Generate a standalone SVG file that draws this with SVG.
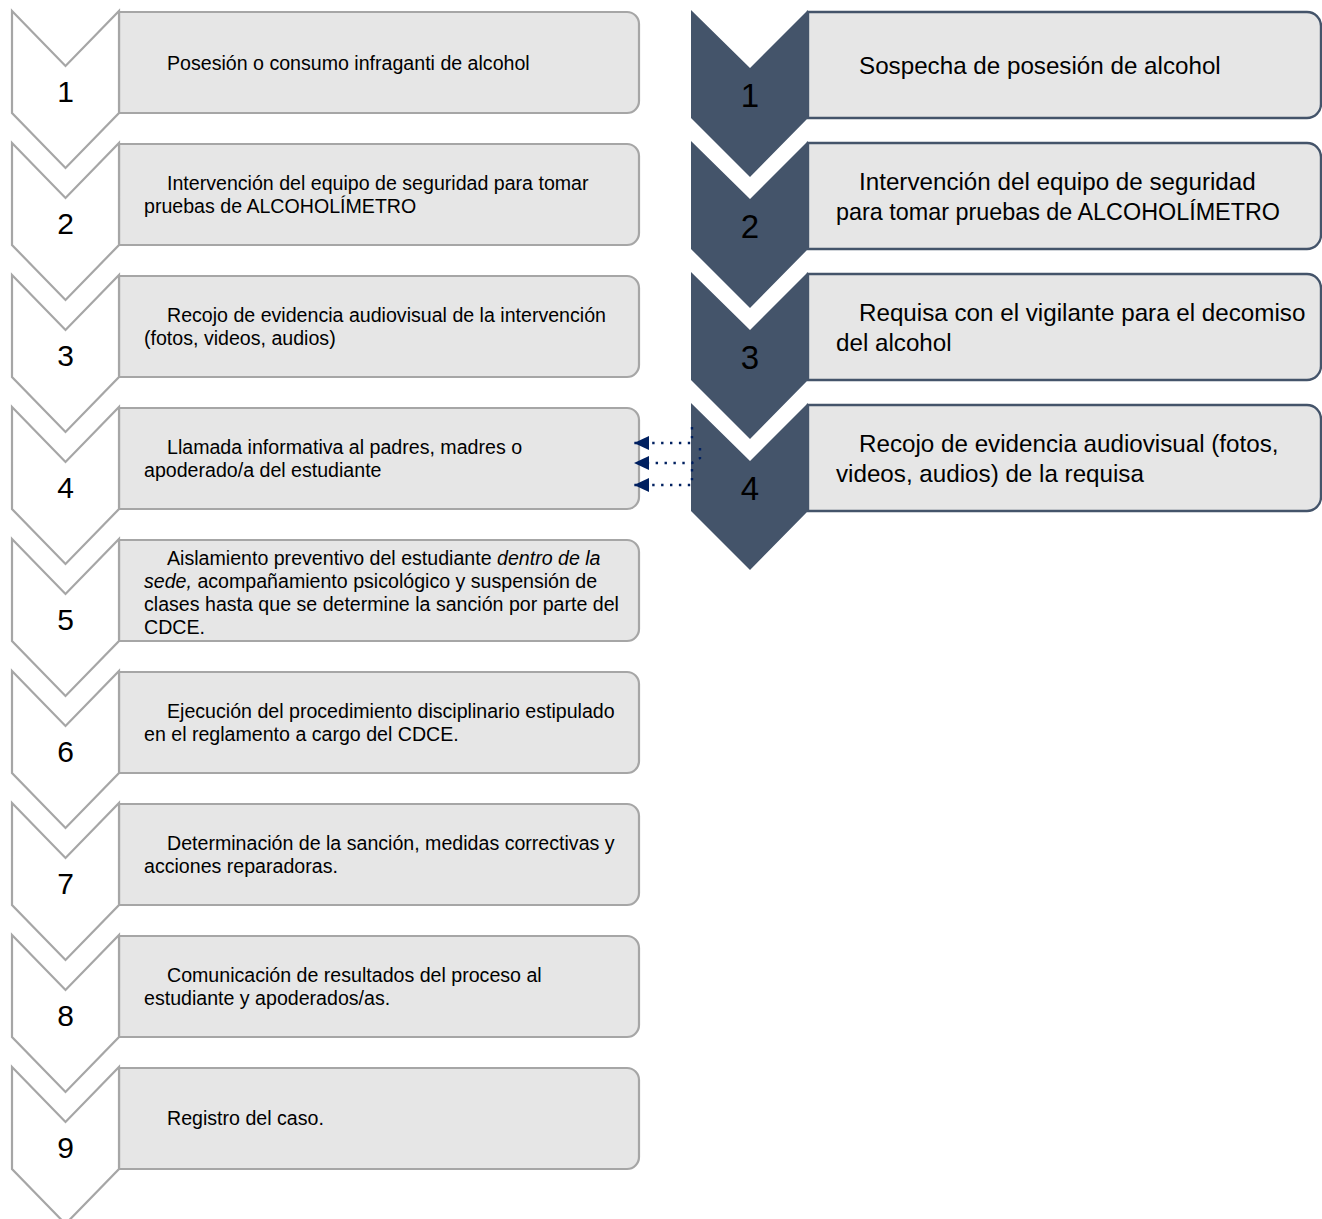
<svg xmlns="http://www.w3.org/2000/svg" width="1322" height="1219" viewBox="0 0 1322 1219">
<defs>
<style>
.lchev{fill:#ffffff;stroke:#a6a6a6;stroke-width:2.2;stroke-linejoin:miter}
.lbox{fill:#e6e6e6;stroke:#a6a6a6;stroke-width:2.2}
.rchev{fill:#44546a}
.rbox{fill:#e6e6e6;stroke:#44546a;stroke-width:2.4}
.lnum{font-family:"Liberation Sans",Arial,sans-serif;font-size:30px;fill:#000;text-anchor:middle}
.rnum{font-family:"Liberation Sans",Arial,sans-serif;font-size:33px;fill:#000;text-anchor:middle}
.lt{font-family:"Liberation Sans",Arial,sans-serif;font-size:19.6px;fill:#000}
.rt{font-family:"Liberation Sans",Arial,sans-serif;font-size:24.2px;fill:#000}
.conn{fill:none;stroke:#002060;stroke-width:2.4;stroke-dasharray:2.4 6.5}
</style>
<marker id="ah" markerUnits="userSpaceOnUse" markerWidth="16" markerHeight="16" refX="15" refY="7" orient="auto" viewBox="0 0 16 14">
<path d="M15,7 L0,0 L0,14 Z" fill="#002060"/>
</marker>
<path id="lchevshape" d="M12,11 L65.5,66 L119,11 L119,113 L65.5,168 L12,113 Z"/>
<path id="rchevshape" d="M691,10 L750,68 L808,10 L808,118 L750,177 L691,118 Z"/>
</defs>

<!-- Left column -->
<g id="left-step-1">
<path class="lbox" d="M119,12 H627 A12,12 0 0 1 639,24 V101 A12,12 0 0 1 627,113 H119 Z"/>
<use href="#lchevshape" class="lchev"/>
<text class="lnum" x="65.5" y="102">1</text>
<text class="lt" x="167" y="70">Posesión o consumo infraganti de alcohol</text>
</g>
<g id="left-step-2" transform="translate(0,132)">
<path class="lbox" d="M119,12 H627 A12,12 0 0 1 639,24 V101 A12,12 0 0 1 627,113 H119 Z"/>
<use href="#lchevshape" class="lchev"/>
<text class="lnum" x="65.5" y="102">2</text>
<text class="lt" x="167" y="58">Intervención del equipo de seguridad para tomar</text>
<text class="lt" x="144" y="81">pruebas de ALCOHOLÍMETRO</text>
</g>
<g id="left-step-3" transform="translate(0,264)">
<path class="lbox" d="M119,12 H627 A12,12 0 0 1 639,24 V101 A12,12 0 0 1 627,113 H119 Z"/>
<use href="#lchevshape" class="lchev"/>
<text class="lnum" x="65.5" y="102">3</text>
<text class="lt" x="167" y="58">Recojo de evidencia audiovisual de la intervención</text>
<text class="lt" x="144" y="81">(fotos, videos, audios)</text>
</g>
<g id="left-step-4" transform="translate(0,396)">
<path class="lbox" d="M119,12 H627 A12,12 0 0 1 639,24 V101 A12,12 0 0 1 627,113 H119 Z"/>
<use href="#lchevshape" class="lchev"/>
<text class="lnum" x="65.5" y="102">4</text>
<text class="lt" x="167" y="58">Llamada informativa al padres, madres o</text>
<text class="lt" x="144" y="81">apoderado/a del estudiante</text>
</g>
<g id="left-step-5" transform="translate(0,528)">
<path class="lbox" d="M119,12 H627 A12,12 0 0 1 639,24 V101 A12,12 0 0 1 627,113 H119 Z"/>
<use href="#lchevshape" class="lchev"/>
<text class="lnum" x="65.5" y="102">5</text>
<text class="lt" x="167" y="37">Aislamiento preventivo del estudiante <tspan font-style="italic">dentro de la</tspan></text>
<text class="lt" x="144" y="60"><tspan font-style="italic">sede,</tspan> acompañamiento psicológico y suspensión de</text>
<text class="lt" x="144" y="83">clases hasta que se determine la sanción por parte del</text>
<text class="lt" x="144" y="106">CDCE.</text>
</g>
<g id="left-step-6" transform="translate(0,660)">
<path class="lbox" d="M119,12 H627 A12,12 0 0 1 639,24 V101 A12,12 0 0 1 627,113 H119 Z"/>
<use href="#lchevshape" class="lchev"/>
<text class="lnum" x="65.5" y="102">6</text>
<text class="lt" x="167" y="58">Ejecución del procedimiento disciplinario estipulado</text>
<text class="lt" x="144" y="81">en el reglamento a cargo del CDCE.</text>
</g>
<g id="left-step-7" transform="translate(0,792)">
<path class="lbox" d="M119,12 H627 A12,12 0 0 1 639,24 V101 A12,12 0 0 1 627,113 H119 Z"/>
<use href="#lchevshape" class="lchev"/>
<text class="lnum" x="65.5" y="102">7</text>
<text class="lt" x="167" y="58">Determinación de la sanción, medidas correctivas y</text>
<text class="lt" x="144" y="81">acciones reparadoras.</text>
</g>
<g id="left-step-8" transform="translate(0,924)">
<path class="lbox" d="M119,12 H627 A12,12 0 0 1 639,24 V101 A12,12 0 0 1 627,113 H119 Z"/>
<use href="#lchevshape" class="lchev"/>
<text class="lnum" x="65.5" y="102">8</text>
<text class="lt" x="167" y="58">Comunicación de resultados del proceso al</text>
<text class="lt" x="144" y="81">estudiante y apoderados/as.</text>
</g>
<g id="left-step-9" transform="translate(0,1056)">
<path class="lbox" d="M119,12 H627 A12,12 0 0 1 639,24 V101 A12,12 0 0 1 627,113 H119 Z"/>
<use href="#lchevshape" class="lchev"/>
<text class="lnum" x="65.5" y="102">9</text>
<text class="lt" x="167" y="69">Registro del caso.</text>
</g>

<!-- Right column -->
<g id="right-step-1">
<path class="rbox" d="M808,12 H1307 A14,14 0 0 1 1321,26 V104 A14,14 0 0 1 1307,118 H808 Z"/>
<use href="#rchevshape" class="rchev"/>
<text class="rnum" x="750" y="107">1</text>
<text class="rt" x="859" y="74">Sospecha de posesión de alcohol</text>
</g>
<g id="right-step-2" transform="translate(0,131)">
<path class="rbox" d="M808,12 H1307 A14,14 0 0 1 1321,26 V104 A14,14 0 0 1 1307,118 H808 Z"/>
<use href="#rchevshape" class="rchev"/>
<text class="rnum" x="750" y="107">2</text>
<text class="rt" x="859" y="59">Intervención del equipo de seguridad</text>
<text class="rt" x="836" y="89" textLength="444" lengthAdjust="spacingAndGlyphs">para tomar pruebas de ALCOHOLÍMETRO</text>
</g>
<g id="right-step-3" transform="translate(0,262)">
<path class="rbox" d="M808,12 H1307 A14,14 0 0 1 1321,26 V104 A14,14 0 0 1 1307,118 H808 Z"/>
<use href="#rchevshape" class="rchev"/>
<text class="rnum" x="750" y="107">3</text>
<text class="rt" x="859" y="59">Requisa con el vigilante para el decomiso</text>
<text class="rt" x="836" y="89">del alcohol</text>
</g>
<g id="right-step-4" transform="translate(0,393)">
<path class="rbox" d="M808,12 H1307 A14,14 0 0 1 1321,26 V104 A14,14 0 0 1 1307,118 H808 Z"/>
<use href="#rchevshape" class="rchev"/>
<text class="rnum" x="750" y="107">4</text>
<text class="rt" x="859" y="59">Recojo de evidencia audiovisual (fotos,</text>
<text class="rt" x="836" y="89">videos, audios) de la requisa</text>
</g>

<!-- Connectors -->
<g id="connectors">
<path class="conn" d="M692,427 V443 H634" marker-end="url(#ah)"/>
<path class="conn" d="M700,448 V458 L692,463 H634" marker-end="url(#ah)"/>
<path class="conn" d="M692,469 V485 H634" marker-end="url(#ah)"/>
</g>
</svg>
